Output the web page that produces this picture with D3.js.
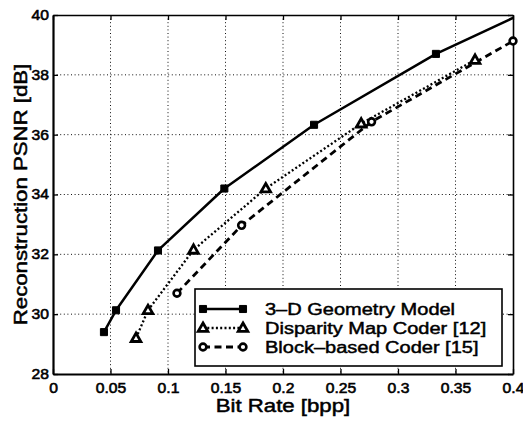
<!DOCTYPE html>
<html>
<head>
<meta charset="utf-8">
<script src="https://cdn.jsdelivr.net/npm/d3@7"></script>
<style>
  html, body { margin: 0; padding: 0; background: #fff; }
  svg text { font-family: 'Liberation Sans', Arial, Helvetica, sans-serif; fill: #000; }
</style>
</head>
<body>
<div id="chart"></div>
<script>
// Data
const geometryRate = [0.0443, 0.0548, 0.0913, 0.149, 0.227, 0.333, 0.45];
const geometryPsnr = [29.4, 30.13, 32.13, 34.2, 36.33, 38.7, 40.8];

const disparityRate = [0.0722, 0.0826, 0.1222, 0.185, 0.268, 0.367];
const disparityPsnr = [29.2, 30.13, 32.15, 34.2, 36.37, 38.5];

const blockRate = [0.1078, 0.164, 0.277, 0.4];
const blockPsnr = [30.7, 32.97, 36.43, 39.13];

const seriesNames = ['3\u2013D Geometry Model', 'Disparity Map Coder [12]', 'Block\u2013based Coder [15]'];

const xTicks = [0, 0.05, 0.1, 0.15, 0.2, 0.25, 0.3, 0.35, 0.4];
const xTickLabels = ['0', '0.05', '0.1', '0.15', '0.2', '0.25', '0.3', '0.35', '0.4'];
const yTicks = [28, 30, 32, 34, 36, 38, 40];

const xLabel = 'Bit Rate [bpp]';
const yLabel = 'Reconstruction PSNR [dB]';

// Layout
const W = 523, H = 421;
const MARGIN = { top: 15, right: 10, bottom: 47, left: 53 };
const WIDTH = W - MARGIN.left - MARGIN.right;
const HEIGHT = H - MARGIN.top - MARGIN.bottom;

const x = d3.scaleLinear().domain([0, 0.4]).range([0, WIDTH]);
const y = d3.scaleLinear().domain([28, 40]).range([HEIGHT, 0]);

const svg = d3.select('#chart').append('svg')
  .attr('width', W)
  .attr('height', H);

const g = svg.append('g')
  .attr('transform', `translate(${MARGIN.left},${MARGIN.top})`);

svg.append('defs').append('clipPath').attr('id', 'plot-clip')
  .append('rect').attr('width', WIDTH).attr('height', HEIGHT);

// Dotted grid
const grid = g.append('g').attr('stroke', '#111').attr('stroke-width', 1)
  .attr('stroke-dasharray', '1,2.6');
grid.selectAll('.vgrid').data(xTicks.slice(1, -1)).join('line')
  .attr('x1', d => x(d)).attr('x2', d => x(d))
  .attr('y1', 0).attr('y2', HEIGHT);
grid.selectAll('.hgrid').data(yTicks.slice(1, -1)).join('line')
  .attr('x1', 0).attr('x2', WIDTH)
  .attr('y1', d => y(d)).attr('y2', d => y(d));

// Axes (ticks pointing inward on all four sides)
const fmt = d => xTickLabels[xTicks.indexOf(d)];
const xAxis = g.append('g').attr('transform', `translate(0,${HEIGHT})`)
  .call(d3.axisBottom(x).tickValues(xTicks).tickFormat(fmt).tickSizeInner(-5).tickSizeOuter(0).tickPadding(9));
const yAxis = g.append('g')
  .call(d3.axisLeft(y).tickValues(yTicks).tickFormat(d3.format('d')).tickSizeInner(-5).tickSizeOuter(0).tickPadding(4));
const xTop = g.append('g')
  .call(d3.axisTop(x).tickValues(xTicks).tickFormat('').tickSizeInner(-5).tickSizeOuter(0));
const yRight = g.append('g').attr('transform', `translate(${WIDTH},0)`)
  .call(d3.axisRight(y).tickValues(yTicks).tickFormat('').tickSizeInner(-5).tickSizeOuter(0));

[xAxis, yAxis, xTop, yRight].forEach(a => {
  a.selectAll('.tick line').attr('stroke', '#000').attr('stroke-width', 1.3);
  a.select('.domain').attr('stroke', '#000');
});
xAxis.select('.domain').attr('stroke-width', 2.2);
yAxis.select('.domain').attr('stroke-width', 2.2);
xTop.select('.domain').attr('stroke-width', 1.6);
yRight.select('.domain').attr('stroke-width', 1.6);

xAxis.selectAll('.tick text')
  .attr('font-size', 14).attr('stroke', '#000').attr('stroke-width', 0.55)
  .attr('transform', 'scale(1.12,1)');
yAxis.selectAll('.tick text')
  .attr('font-size', 14).attr('stroke', '#000').attr('stroke-width', 0.55)
  .attr('x', -4 / 1.12)
  .attr('transform', 'scale(1.12,1)');

// Axis titles
svg.append('text')
  .attr('text-anchor', 'middle')
  .attr('font-size', 18.5)
  .attr('stroke', '#000').attr('stroke-width', 0.5)
  .attr('transform', `translate(${MARGIN.left + WIDTH / 2},412) scale(1.2,1)`)
  .text(xLabel);

svg.append('text')
  .attr('text-anchor', 'middle')
  .attr('font-size', 18.5)
  .attr('stroke', '#000').attr('stroke-width', 0.5)
  .attr('transform', `translate(27,${MARGIN.top + HEIGHT / 2}) rotate(-90) scale(1.2,1)`)
  .text(yLabel);

// Series
const series = [
  { name: seriesNames[0], xs: geometryRate, ys: geometryPsnr, dash: null, width: 2.5, marker: 'square' },
  { name: seriesNames[1], xs: disparityRate, ys: disparityPsnr, dash: '2,2.3', width: 2.3, marker: 'triangle' },
  { name: seriesNames[2], xs: blockRate, ys: blockPsnr, dash: '7,4.5', width: 2.8, marker: 'circle' }
];

const line = d3.line().x(d => x(d[0])).y(d => y(d[1]));

function drawMarker(sel, type) {
  if (type === 'square') {
    sel.append('path').attr('d', d3.symbol(d3.symbolSquare, 50)())
      .attr('fill', '#000').attr('stroke', '#000').attr('stroke-width', 1);
  } else if (type === 'triangle') {
    sel.append('path').attr('d', 'M0,-5L4.8,3.4L-4.8,3.4Z')
      .attr('fill', '#fff').attr('stroke', '#000').attr('stroke-width', 2.8)
      .attr('stroke-linejoin', 'miter');
  } else {
    sel.append('circle').attr('r', 3.4)
      .attr('fill', '#fff').attr('stroke', '#000').attr('stroke-width', 2.6);
  }
}

const lines = g.append('g').attr('clip-path', 'url(#plot-clip)');
series.forEach(s => {
  const pts = s.xs.map((v, i) => [v, s.ys[i]]);
  lines.append('path')
    .attr('d', line(pts))
    .attr('fill', 'none')
    .attr('stroke', '#000')
    .attr('stroke-width', s.width)
    .attr('stroke-dasharray', s.dash)
    .attr('stroke-linejoin', 'round');
});
series.forEach(s => {
  const pts = s.xs.map((v, i) => [v, s.ys[i]]);
  g.append('g').selectAll('g').data(pts).join('g')
    .attr('transform', d => `translate(${x(d[0])},${y(d[1])})`)
    .each(function () { drawMarker(d3.select(this), s.marker); });
});

// Legend
const legend = svg.append('g').attr('transform', 'translate(195,289)');
legend.append('rect')
  .attr('width', 307).attr('height', 77)
  .attr('fill', '#fff').attr('stroke', '#000').attr('stroke-width', 1.6);

series.forEach((s, i) => {
  const row = legend.append('g').attr('transform', `translate(0,${20 + i * 19})`);
  row.append('line')
    .attr('x1', 8).attr('x2', 48)
    .attr('stroke', '#000').attr('stroke-width', s.width)
    .attr('stroke-dasharray', s.dash);
  [8, 48].forEach(px => {
    const m = row.append('g').attr('transform', `translate(${px},0)`);
    drawMarker(m, s.marker);
  });
  row.append('text')
    .attr('font-size', 16)
    .attr('stroke', '#000').attr('stroke-width', 0.45)
    .attr('transform', 'translate(70,6) scale(1.25,1)')
    .text(s.name);
});
</script>
</body>
</html>
